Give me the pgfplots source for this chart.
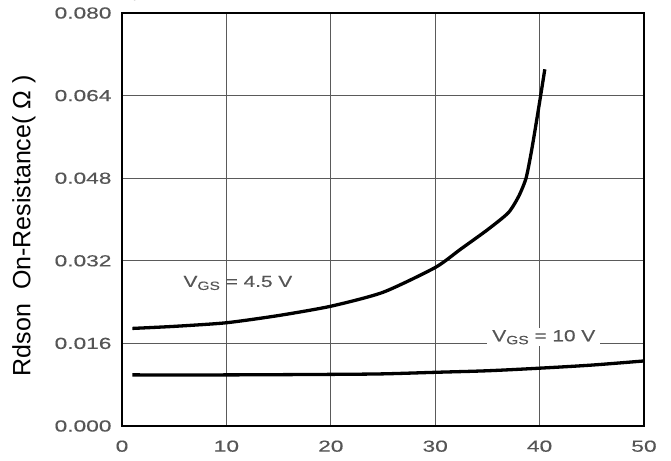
\documentclass[border=0pt]{standalone}
\usepackage{fontspec}
\setmainfont{Liberation Sans}
\newfontfamily\tickfont[FakeStretch=1.42,FakeBold=0.3]{Liberation Sans}
\newfontfamily\labfont[FakeBold=0.2]{Liberation Sans}
\usepackage{pgfplots}
\pgfplotsset{compat=1.18}
\definecolor{tickgray}{HTML}{555555}
\definecolor{gridgray}{HTML}{5A5A5A}
\begin{document}
\begin{tikzpicture}
\useasboundingbox (-122bp,-35bp) rectangle (549bp,426bp);
\begin{axis}[
  at={(0,0)}, anchor=south west,
  scale only axis, width=522bp, height=413bp,
  xmin=0, xmax=50, ymin=0, ymax=0.08,
  xtick={0,10,20,30,40,50},
  xticklabels={0,10,20,30,40,50},
  ytick={0,0.016,0.032,0.048,0.064,0.08},
  yticklabels={0.000,0.016,0.032,0.048,0.064,0.080},
  major tick length=0pt,
  grid=major,
  major grid style={gridgray, line width=1.3bp},
  axis line style={black, line width=2.8bp},
  /pgf/number format/assume math mode=true,
  tick label style={font=\tickfont\fontsize{16bp}{16bp}\selectfont, text=tickgray},
  xticklabel style={yshift=-11bp},
  yticklabel style={xshift=-7bp},
  ylabel={Rdson\ \ On-Resistance(\ Ω\ )},
  ylabel style={at={(axis description cs:-0.188,0.485)}, anchor=center,
    font=\fontsize{25bp}{25bp}\selectfont},
]
\addplot[black, line width=3.3bp, smooth, tension=0.4] coordinates {
 (1,0.0189) (5,0.0193) (10,0.0200) (15,0.0214) (20,0.0232) (25,0.0259)
 (30,0.0307) (32.4,0.0342) (35,0.0380) (37,0.0413) (38,0.0445)
 (38.7,0.0480) (39.2,0.0530) (39.7,0.0590) (40.1,0.0640) (40.5,0.0691)
};
\addplot[black, line width=3.3bp, smooth] coordinates {
 (1,0.0099) (10,0.0099) (20,0.0100) (25,0.0101) (30,0.0104)
 (35,0.0107) (40,0.0112) (45,0.0118) (50,0.0126)
};
\node[text=tickgray, font=\labfont\fontsize{16bp}{16bp}\selectfont, xscale=1.3]
  at (axis cs:11.1,0.0277) {V\raisebox{-0.35ex}{\fontsize{12bp}{12bp}\selectfont GS} = 4.5 V};
\node[text=tickgray, font=\labfont\fontsize{16bp}{16bp}\selectfont, xscale=1.3, fill=white,
  inner xsep=4bp, inner ysep=2bp]
  at (axis cs:40.4,0.0172) {V\raisebox{-0.35ex}{\fontsize{12bp}{12bp}\selectfont GS} = 10 V};
\end{axis}
\end{tikzpicture}
\end{document}
